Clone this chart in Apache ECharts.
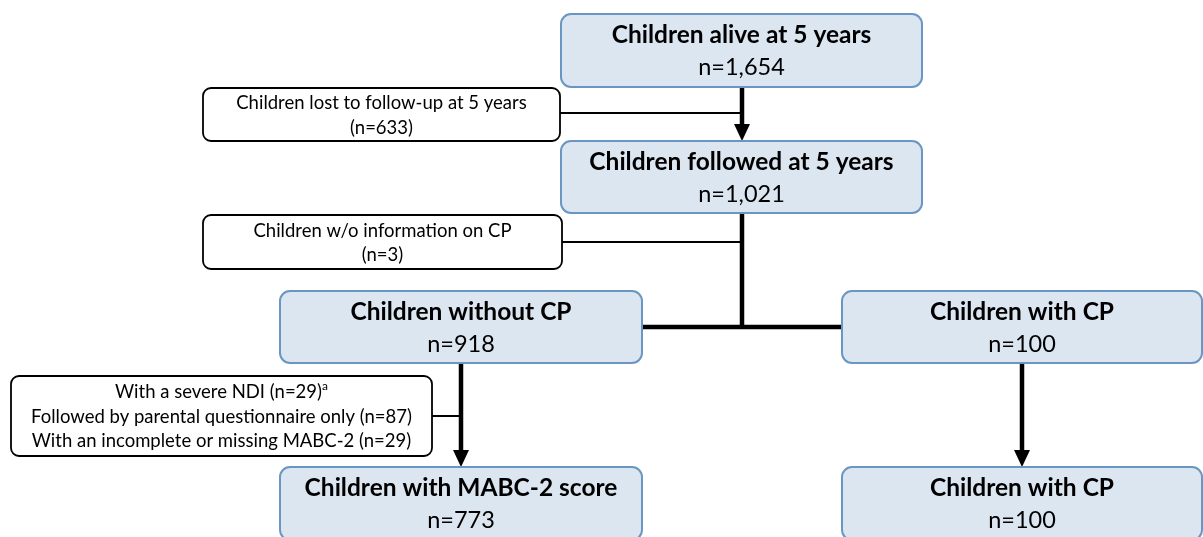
<!DOCTYPE html>
<html>
<head>
<meta charset="utf-8">
<script src="https://cdn.jsdelivr.net/npm/echarts@6/dist/echarts.min.js"></script>
<style>
    html, body { margin: 0; padding: 0; background: #fff; }
    #chart { width: 1203px; height: 537px; }
</style>
</head>
<body>
<div id="chart"></div>
<script>
    // flow steps (title + count), laid out on a 1203 x 537 canvas-like axis
    var mainTitles = ['Children alive at 5 years', 'Children followed at 5 years', 'Children without CP',
        'Children with CP', 'Children with MABC-2 score', 'Children with CP'];
    var mainCounts = ['n=1,654', 'n=1,021', 'n=918', 'n=100', 'n=773', 'n=100'];
    // [x1, y1, x2, y2] in layout units
    var mainBoxes = [[561, 14, 922, 87], [561, 141, 922, 213], [280, 291, 642, 363],
        [842, 291, 1202, 363], [280, 467, 642, 540], [842, 467, 1202, 540]];

    var sideTexts = [
        'Children lost to follow-up at 5 years\n(n=633)',
        'Children w/o information on CP\n(n=3)',
        'With a severe NDI (n=29){sup|a}\nFollowed by parental questionnaire only (n=87)\nWith an incomplete or missing MABC-2 (n=29)'
    ];
    var sideBoxes = [[203, 88, 560, 141], [203, 215, 562, 269], [11, 376, 432, 456]];

    // connectors: [x1, y1, x2, y2, arrow]
    var thickLinks = [[742, 87, 742, 141, 1], [742, 213, 742, 327, 0], [642, 327, 842, 327, 0],
        [461, 363, 461, 467, 1], [1022, 363, 1022, 467, 1]];
    var thinLinks = [[560, 113, 742, 113, 0], [562, 242, 742, 242, 0], [432, 416, 461, 416, 0]];

    var font = 'Lato, "Open Sans", sans-serif';

    function linkItem(width) {
        return function (params, api) {
            var p1 = api.coord([api.value(0), api.value(1)]);
            var p2 = api.coord([api.value(2), api.value(3)]);
            var children = [];
            var end = p2.slice();
            if (api.value(4)) end[1] = p2[1] - 14;
            children.push({
                type: 'line',
                shape: { x1: p1[0], y1: p1[1], x2: end[0], y2: end[1] },
                style: { stroke: '#000', lineWidth: width }
            });
            if (api.value(4)) {
                children.push({
                    type: 'polygon',
                    shape: { points: [[p2[0] - 8, p2[1] - 17], [p2[0] + 8, p2[1] - 17], [p2[0], p2[1]]] },
                    style: { fill: '#000' }
                });
            }
            return { type: 'group', children: children };
        };
    }

    var chart = echarts.init(document.getElementById('chart'));
    chart.setOption({
        animation: false,
        grid: { left: 0, right: 0, top: 0, bottom: 0 },
        xAxis: { type: 'value', min: 0, max: 1203, show: false },
        yAxis: { type: 'value', min: 0, max: 537, inverse: true, show: false },
        series: [
            {
                type: 'custom',
                clip: false,
                data: thickLinks,
                renderItem: linkItem(4.5)
            },
            {
                type: 'custom',
                clip: false,
                data: thinLinks,
                renderItem: linkItem(2)
            },
            {
                type: 'custom',
                clip: false,
                data: mainBoxes.map(function (b, i) { return b.concat(i); }),
                renderItem: function (params, api) {
                    var p1 = api.coord([api.value(0), api.value(1)]);
                    var p2 = api.coord([api.value(2), api.value(3)]);
                    var i = api.value(4);
                    var cx = (p1[0] + p2[0]) / 2;
                    return {
                        type: 'group',
                        children: [
                            {
                                type: 'rect',
                                shape: { x: p1[0], y: p1[1], width: p2[0] - p1[0], height: p2[1] - p1[1], r: 10 },
                                style: { fill: '#dce6f1', stroke: '#6a96c3', lineWidth: 2 }
                            },
                            {
                                type: 'text',
                                style: {
                                    text: mainTitles[i], x: cx, y: p1[1] + 21,
                                    align: 'center', verticalAlign: 'middle',
                                    font: 'bold 24.5px ' + font, fill: '#000'
                                }
                            },
                            {
                                type: 'text',
                                style: {
                                    text: mainCounts[i], x: cx, y: p1[1] + 53,
                                    align: 'center', verticalAlign: 'middle',
                                    font: '23.5px ' + font, fill: '#000'
                                }
                            }
                        ]
                    };
                }
            },
            {
                type: 'custom',
                clip: false,
                data: sideBoxes.map(function (b, i) { return b.concat(i); }),
                renderItem: function (params, api) {
                    var p1 = api.coord([api.value(0), api.value(1)]);
                    var p2 = api.coord([api.value(2), api.value(3)]);
                    var i = api.value(4);
                    return {
                        type: 'group',
                        children: [
                            {
                                type: 'rect',
                                shape: { x: p1[0], y: p1[1], width: p2[0] - p1[0], height: p2[1] - p1[1], r: 8 },
                                style: { fill: '#fff', stroke: '#000', lineWidth: 1.8 }
                            },
                            {
                                type: 'text',
                                style: {
                                    text: sideTexts[i], x: (p1[0] + p2[0]) / 2, y: (p1[1] + p2[1]) / 2 + 1,
                                    align: 'center', verticalAlign: 'middle',
                                    fontFamily: font, fontSize: 18.5, lineHeight: 24.5, fill: '#000',
                                    rich: { sup: { fontSize: 12, verticalAlign: 'top', lineHeight: 24.5, fontFamily: font } }
                                }
                            }
                        ]
                    };
                }
            }
        ]
    });
</script>
</body>
</html>
